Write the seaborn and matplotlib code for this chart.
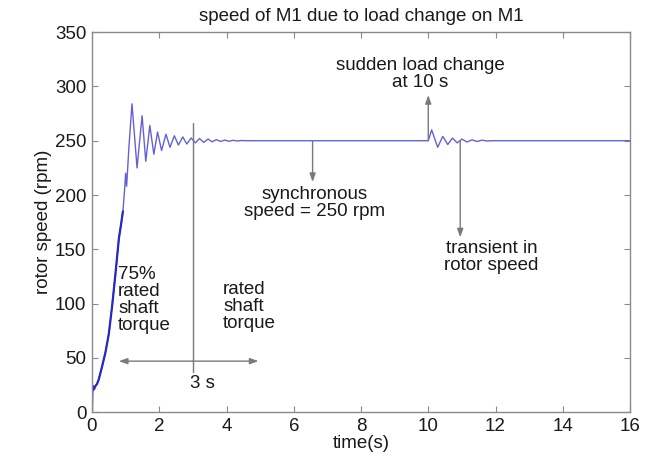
import matplotlib
matplotlib.use("Agg")
import matplotlib.pyplot as plt
import seaborn as sns
import pandas as pd

# ---- data ----
time_s = [0.0, 0.01, 0.03, 0.06, 0.1, 0.15, 0.2, 0.3, 0.4, 0.5, 0.6, 0.7, 0.8,
          0.86, 0.92, 0.97, 1.0, 1.03, 1.1, 1.19, 1.34, 1.49, 1.6, 1.72, 1.84,
          1.95, 2.07, 2.2, 2.32, 2.45, 2.57, 2.7, 2.82, 2.95, 3.07, 3.2, 3.32,
          3.45, 3.57, 3.7, 3.82, 3.95, 4.07, 4.2, 4.32, 4.45, 4.6, 10.0, 10.1,
          10.28, 10.43, 10.58, 10.72, 10.86, 11.0, 11.15, 11.3, 11.45, 11.6,
          11.75, 11.9, 16.0]
speed_rpm = [0, 18, 24, 21, 24, 26, 30, 42, 55, 72, 98, 128, 160,
             172, 185, 205, 220, 208, 245, 284, 225, 273, 231, 264, 237.5,
             258, 241, 256, 244, 254.5, 246, 253.5, 247, 252.5, 248, 252, 248.5,
             251.5, 249, 251, 249.3, 250.6, 249.5, 250.4, 249.7, 250.2, 250, 250, 260,
             244, 254, 246.5, 252.5, 248, 251.5, 248.8, 250.8, 249.3, 250.5,
             249.7, 250, 250]

title = "speed of M1 due to load change on M1"
x_label = "time(s)"
y_label = "rotor speed (rpm)"
x_ticks = [0, 2, 4, 6, 8, 10, 12, 14, 16]
y_ticks = [0, 50, 100, 150, 200, 250, 300, 350]

df = pd.DataFrame({"t": time_s, "w": speed_rpm})
startup = df[df["t"] <= 0.92]

sns.set_style("white")
plt.rcParams["font.family"] = ["Liberation Sans", "DejaVu Sans"]

FS = 13.5
fig = plt.figure(figsize=(6.57, 4.59), dpi=100)
ax = fig.add_subplot(111)
fig.subplots_adjust(left=0.140, right=0.959, bottom=0.102, top=0.930)

sns.lineplot(data=df, x="t", y="w", estimator=None, sort=False,
             color="#6262d6", linewidth=1.0, ax=ax)
sns.lineplot(data=startup, x="t", y="w", estimator=None, sort=False,
             color="#2828c4", linewidth=1.6, ax=ax)

ax.set_xlim(0, 16)
ax.set_ylim(0, 350)
ax.set_xticks(x_ticks)
ax.set_yticks(y_ticks)
ax.set_xlabel(x_label, fontsize=FS, color="#1a1a1a", labelpad=0)
ax.set_ylabel(y_label, fontsize=FS, color="#1a1a1a", labelpad=2)
ax.set_title(title, fontsize=FS, color="#1a1a1a", pad=8)

for sp in ax.spines.values():
    sp.set_visible(True)
    sp.set_color("#8a8a8a")
    sp.set_linewidth(1.0)
ax.tick_params(direction="in", length=4, width=0.8, color="#8a8a8a",
               labelsize=FS, labelcolor="#1a1a1a", top=True, right=True,
               bottom=True, left=True)
ax.tick_params(axis="x", pad=4)
ax.tick_params(axis="y", pad=4)

gray = "#7a7a7a"
txt = "#1a1a1a"
head = "-|>,head_length=0.5,head_width=0.18"


def arrow(x0, y0, x1, y1):
    ax.annotate("", xy=(x1, y1), xytext=(x0, y0),
                arrowprops=dict(arrowstyle=head, color=gray, lw=1.0,
                                shrinkA=0, shrinkB=0))


# 3 s marker and torque regions
ax.plot([3, 3], [37, 266], color=gray, lw=1.0)
arrow(3, 47, 0.8, 47)
arrow(3, 47, 4.95, 47)
ax.text(3.27, 26, "3 s", ha="center", va="center", fontsize=FS, color=txt)
ax.text(0.78, 135, "75%\nrated\nshaft\ntorque", ha="left", va="top",
        fontsize=FS, color=txt, linespacing=1.0)
ax.text(3.9, 121, "rated\nshaft\ntorque", ha="left", va="top",
        fontsize=FS, color=txt, linespacing=1.0)

# synchronous speed
arrow(6.56, 250, 6.56, 212)
ax.text(6.62, 193, "synchronous\nspeed = 250 rpm", ha="center", va="center",
        fontsize=FS, color=txt, linespacing=1.0)

# sudden load change
arrow(10.0, 250, 10.0, 292)
ax.text(9.76, 311, "sudden load change\nat 10 s", ha="center", va="center",
        fontsize=FS, color=txt, linespacing=1.0)

# transient
arrow(10.95, 250, 10.95, 161)
ax.text(11.88, 143, "transient in\nrotor speed", ha="center", va="center",
        fontsize=FS, color=txt, linespacing=1.0)

fig.savefig("out.png", dpi=100)
